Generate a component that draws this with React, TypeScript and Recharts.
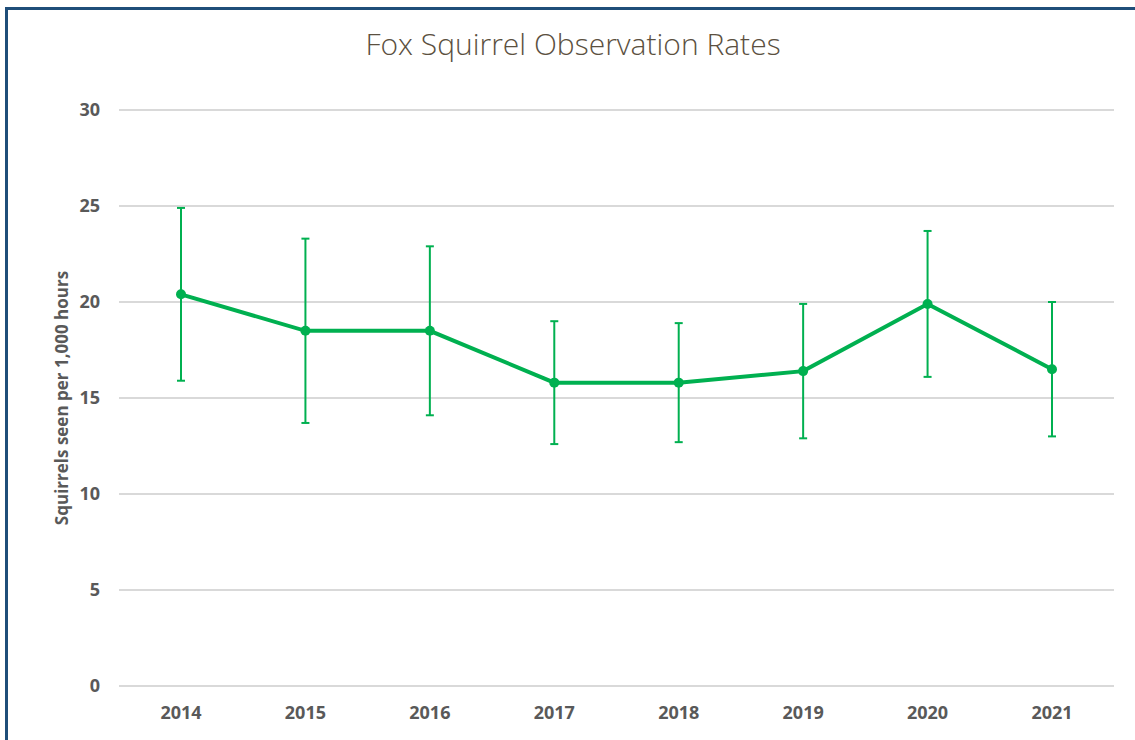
import React from 'react';
import { LineChart, Line, XAxis, YAxis, CartesianGrid, ErrorBar, Label } from 'recharts';

const years = ['2014', '2015', '2016', '2017', '2018', '2019', '2020', '2021'];
const rates = [20.4, 18.5, 18.5, 15.8, 15.8, 16.4, 19.9, 16.5];
const upper = [24.9, 23.3, 22.9, 19.0, 18.9, 19.9, 23.7, 20.0];
const lower = [15.9, 13.7, 14.1, 12.6, 12.7, 12.9, 16.1, 13.0];
const yTicks = [0, 5, 10, 15, 20, 25, 30];

const data = years.map((y, i) => ({
  year: y,
  rate: rates[i],
  err: [+(rates[i] - lower[i]).toFixed(2), +(upper[i] - rates[i]).toFixed(2)],
}));

const GREEN = '#00b050';
const TICK = { fill: '#595959', fontSize: 18, fontWeight: 700, fontFamily: '"Open Sans", sans-serif' };

export default function App() {
  return (
    <div style={{ position: 'absolute', left: 5, top: 7, width: 1160, height: 760, border: '3px solid #1f4e79', boxSizing: 'border-box', background: '#fff' }}>
      <div style={{ position: 'absolute', left: 0, top: 0, width: 1130, textAlign: 'center', fontFamily: '"Open Sans", sans-serif', fontWeight: 300, fontSize: 30, color: '#5b5040', lineHeight: '34px', paddingTop: 17 }}>
        Fox Squirrel Observation Rates
      </div>
      <LineChart width={1130} height={730} data={data} margin={{ top: 100, left: 51, right: 24, bottom: 24 }}>
        <CartesianGrid horizontal vertical={false} stroke="#d9d9d9" strokeWidth={2} />
        <XAxis dataKey="year" axisLine={false} tickLine={false} tickSize={0} tickMargin={20} height={30} padding={{ left: 62, right: 62 }} tick={TICK} interval={0} />
        <YAxis domain={[0, 30]} ticks={yTicks} axisLine={false} tickLine={false} tickSize={0} tickMargin={19} width={60} tick={TICK} interval={0}>
          <Label value="Squirrels seen per 1,000 hours" angle={-90} position="insideLeft" offset={3} style={{ textAnchor: 'middle', fill: '#595959', fontSize: 17, fontWeight: 700, fontFamily: '"Open Sans", sans-serif' }} />
        </YAxis>
        <Line type="linear" dataKey="rate" stroke={GREEN} strokeWidth={4} dot={{ r: 5, fill: GREEN, stroke: GREEN, strokeWidth: 0 }} activeDot={false} isAnimationActive={false}>
          <ErrorBar dataKey="err" direction="y" stroke={GREEN} strokeWidth={2} width={4} isAnimationActive={false} />
        </Line>
      </LineChart>
    </div>
  );
}
